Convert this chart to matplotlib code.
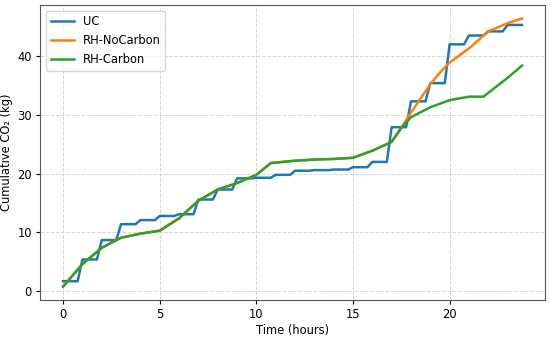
import numpy as np
import matplotlib
matplotlib.use("Agg")
import matplotlib.pyplot as plt

# UC: hourly levels (sampled every 15 min, constant within each hour)
uc_hour_levels = [1.7, 5.4, 8.7, 11.4, 12.1, 12.8, 13.1, 15.6, 17.3, 19.2,
                  19.3, 19.8, 20.5, 20.6, 20.7, 21.1, 22.0, 27.9, 32.3, 35.4,
                  42.0, 43.5, 44.2, 45.3]
uc_time = np.arange(0, 24, 0.25)
uc_vals = np.repeat(uc_hour_levels, 4)

# RH-Carbon
rhc_time = [0, 1, 2, 3, 4, 5, 6, 7, 8, 9, 10, 10.75, 12, 13, 14, 15, 16, 17,
            17.5, 18, 19, 20, 21, 21.75, 23, 23.75]
rhc_vals = [0.8, 4.6, 7.4, 9.1, 9.8, 10.3, 12.4, 15.4, 17.3, 18.4, 19.8, 21.8,
            22.2, 22.4, 22.5, 22.7, 23.9, 25.4, 27.8, 29.6, 31.3, 32.5, 33.1,
            33.1, 36.3, 38.4]

# RH-NoCarbon (identical to RH-Carbon until ~17.5 h)
rhn_time = [0, 1, 2, 3, 4, 5, 6, 7, 8, 9, 10, 10.75, 12, 13, 14, 15, 16, 17,
            17.5, 18, 18.5, 19, 19.5, 20, 21, 22, 23, 23.75]
rhn_vals = [0.8, 4.6, 7.4, 9.1, 9.8, 10.3, 12.4, 15.4, 17.3, 18.4, 19.8, 21.8,
            22.2, 22.4, 22.5, 22.7, 23.9, 25.4, 27.8, 30.4, 32.8, 35.2, 37.2,
            38.9, 41.3, 44.2, 45.6, 46.4]

fig, ax = plt.subplots(figsize=(5.5, 3.37), dpi=100)
fig.subplots_adjust(left=0.073, right=0.991, top=0.985, bottom=0.11)

ax.plot(uc_time, uc_vals, color="#1f77b4", lw=1.8, label="UC")
ax.plot(rhn_time, rhn_vals, color="#ff7f0e", lw=1.8, label="RH-NoCarbon")
ax.plot(rhc_time, rhc_vals, color="#2ca02c", lw=1.8, label="RH-Carbon")

fs = 8.3
ax.set_xlabel("Time (hours)", fontsize=fs, labelpad=2)
ax.set_ylabel("Cumulative CO₂ (kg)", fontsize=fs, labelpad=3)
ax.tick_params(labelsize=fs, length=3, pad=3)
ax.grid(True, linestyle="--", color="#cccccc", alpha=0.8, lw=0.7)
for s in ax.spines.values():
    s.set_color("#555555")
ax.legend(loc="upper left", fontsize=fs)

fig.savefig("out.png", dpi=100)
